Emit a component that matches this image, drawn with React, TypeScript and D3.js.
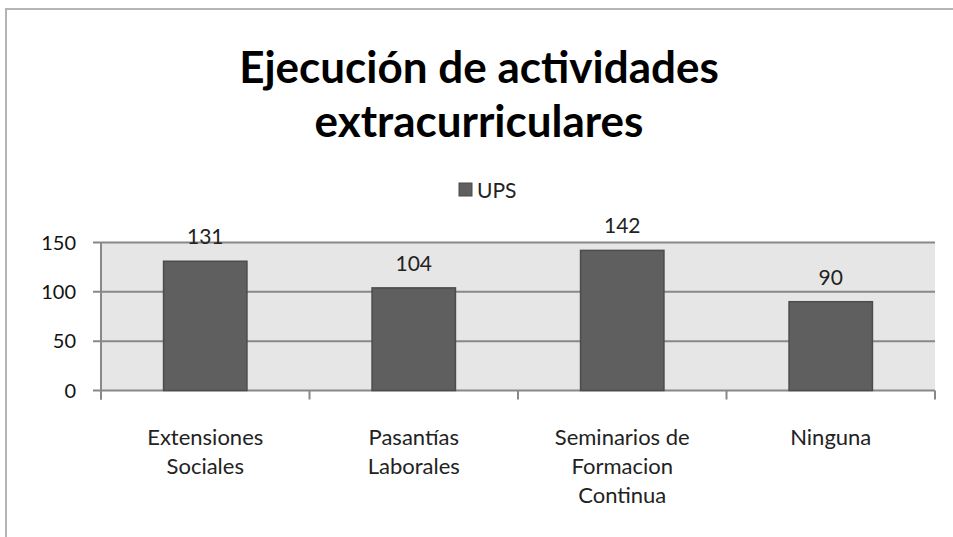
import * as d3 from "d3";

const categories = [
  ["Extensiones", "Sociales"],
  ["Pasantías", "Laborales"],
  ["Seminarios de", "Formacion", "Continua"],
  ["Ninguna"],
];
const values = [131, 104, 142, 90];
const yTicks = [0, 50, 100, 150];
const seriesName = "UPS";
const titleLines = ["Ejecución de actividades", "extracurriculares"];

const W = 953;
const H = 537;
const plot = { left: 101, right: 935, top: 242.5, bottom: 390.5 };
const font = "Lato, 'Open Sans', sans-serif";

export default function App() {
  const x = d3
    .scaleBand<number>()
    .domain(d3.range(values.length))
    .range([plot.left, plot.right])
    .paddingInner(0.6)
    .paddingOuter(0.3);

  const y = d3.scaleLinear().domain([0, 150]).range([plot.bottom, plot.top]);

  const step = (plot.right - plot.left) / values.length;
  const catTicks = d3.range(values.length + 1).map((i) => plot.left + i * step);

  return (
    <svg
      width={W}
      height={H}
      style={{ position: "absolute", left: 0, top: 0, background: "#fff" }}
      fontFamily={font}
    >
      {/* outer chart border */}
      <rect x={6} y={9} width={W + 10} height={H + 10} fill="none" stroke="#b4b4b4" strokeWidth={2} />

      {titleLines.map((t, i) => (
        <text
          key={t}
          x={479}
          y={83 + i * 54}
          textAnchor="middle"
          fontSize={44}
          fontWeight="bold"
          fill="#000"
        >
          {t}
        </text>
      ))}

      {/* legend */}
      <rect x={459} y={183} width={13} height={13} fill="#5f5f5f" stroke="#4a4a4a" />
      <text x={477} y={198} fontSize={21} fill="#222">
        {seriesName}
      </text>

      {/* plot background */}
      <rect
        x={plot.left}
        y={plot.top}
        width={plot.right - plot.left}
        height={plot.bottom - plot.top}
        fill="#e6e6e6"
      />

      {/* gridlines */}
      {yTicks.map((t) => (
        <line
          key={t}
          x1={93}
          x2={plot.right}
          y1={y(t)}
          y2={y(t)}
          stroke="#888"
          strokeWidth={2}
        />
      ))}
      <line x1={plot.left} x2={plot.left} y1={plot.top} y2={plot.bottom + 9} stroke="#888" strokeWidth={2} />
      {catTicks.map((cx, i) => (
        <line key={i} x1={cx} x2={cx} y1={plot.bottom} y2={plot.bottom + 9} stroke="#888" strokeWidth={2} />
      ))}

      {/* y tick labels */}
      {yTicks.map((t) => (
        <text key={t} x={76} y={y(t) + 7} textAnchor="end" fontSize={20} fill="#111">
          {t}
        </text>
      ))}

      {/* bars */}
      {values.map((v, i) => (
        <g key={i}>
          <rect
            x={x(i)}
            y={y(v)}
            width={x.bandwidth()}
            height={y(0) - y(v)}
            fill="#5f5f5f"
            stroke="#4c4c4c"
            strokeWidth={1.5}
          />
          <text
            x={(x(i) as number) + x.bandwidth() / 2}
            y={y(v) - 17}
            textAnchor="middle"
            fontSize={21}
            fill="#222"
          >
            {v}
          </text>
        </g>
      ))}

      {/* category labels */}
      {categories.map((lines, i) =>
        lines.map((ln, j) => (
          <text
            key={i + "-" + j}
            x={(x(i) as number) + x.bandwidth() / 2}
            y={445 + j * 29}
            textAnchor="middle"
            fontSize={22}
            fill="#222"
          >
            {ln}
          </text>
        ))
      )}
    </svg>
  );
}
